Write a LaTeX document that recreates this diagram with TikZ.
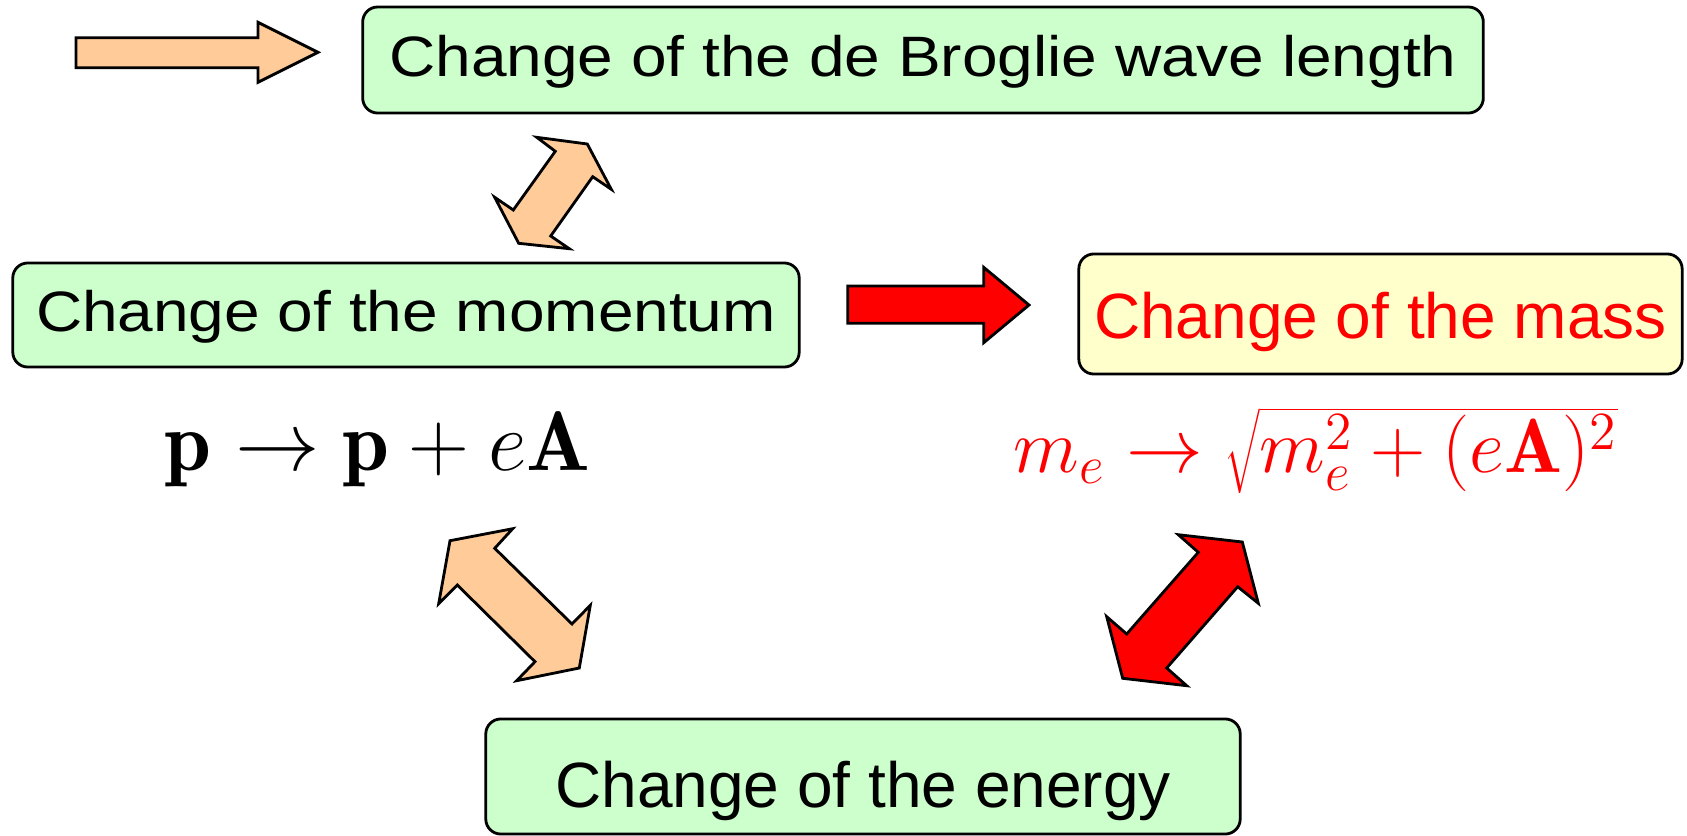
\RequirePackage{fix-cm}
\documentclass[tikz,border=0pt]{standalone}
\usepackage{fontspec}
\usepackage{graphicx}
\newfontfamily\arialf{Liberation Sans}
\definecolor{boxgreen}{HTML}{CCFFCC}
\definecolor{boxyellow}{HTML}{FFFFCC}
\definecolor{peach}{HTML}{FFCC99}
\definecolor{pured}{HTML}{FF0000}
\begin{document}
\begin{tikzpicture}[x=0.01cm,y=-0.01cm,
  box/.style={draw=black,line width=0.8pt,rounded corners=0.15cm,inner sep=0pt,
    font=\arialf\fontsize{18.2}{20}\selectfont,text depth=0pt},
  blockarrow/.style={draw=black,line width=0.8pt,line join=miter}]
\useasboundingbox (0,0) rectangle (1687,836);

% boxes
\node[box,fill=boxgreen,minimum width=11.2cm,minimum height=1.06cm,text height=0.334cm]
  (broglie) at (923,60) {\scalebox{1}[0.89]{Change of the de Broglie wave length}};
\node[box,fill=boxgreen,minimum width=7.86cm,minimum height=1.04cm,text height=0.32cm]
  (momentum) at (406,315) {\scalebox{1}[0.89]{Change of the momentum}};
\node[box,fill=boxyellow,text=pured,minimum width=6.03cm,minimum height=1.20cm,text height=0.486cm]
  (mass) at (1380.5,314) {Change of the mass};
\node[box,fill=boxgreen,minimum width=7.54cm,minimum height=1.15cm,text height=0.62cm]
  (energy) at (863,776.5) {Change of the energy};

% formulas
\node[anchor=base west,inner sep=0pt,font=\fontsize{24}{28}\selectfont]
  (peq) at (164,470) {$\mathbf{p}\to\mathbf{p}+e\mathbf{A}$};
\node[anchor=base west,inner sep=0pt,text=pured,font=\fontsize{21.8}{26}\selectfont]
  (meq) at (1013,472) {$m_e\to\sqrt{m_e^2+(e\mathbf{A})^2}$};

% block arrows
\draw[blockarrow,fill=peach] (76,37.7) -- (258,37.7) -- (258,22.3) -- (318,52.3)
  -- (258,82.3) -- (258,67.7) -- (76,67.7) -- cycle;
\draw[blockarrow,fill=pured] (847.7,286) -- (983.7,286) -- (983.7,267.3) -- (1029,305)
  -- (983.7,342.7) -- (983.7,323.3) -- (847.7,323.3) -- cycle;
\draw[blockarrow,fill=peach] (536.7,137.3) -- (587.3,144) -- (611.3,189.3) -- (592.7,176.7)
  -- (550.7,236) -- (569.3,248.7) -- (518.7,243.3) -- (494.7,197.3) -- (513.3,210)
  -- (555.3,151.3) -- cycle;
\draw[blockarrow,fill=peach] (450,540.7) -- (512.7,528.7) -- (494.7,548.3) -- (572,624)
  -- (590.3,605.3) -- (579.3,668) -- (516.7,680.7) -- (535,661.7) -- (457.3,585)
  -- (438.7,603.7) -- cycle;
\draw[blockarrow,fill=pured] (1178.3,534.7) -- (1242.3,542) -- (1258.3,603.3) -- (1237.7,586.7)
  -- (1166.7,668) -- (1186.7,685.7) -- (1122.7,678.3) -- (1106.7,616.7) -- (1126.7,634)
  -- (1198.3,552.3) -- cycle;
\end{tikzpicture}
\end{document}
